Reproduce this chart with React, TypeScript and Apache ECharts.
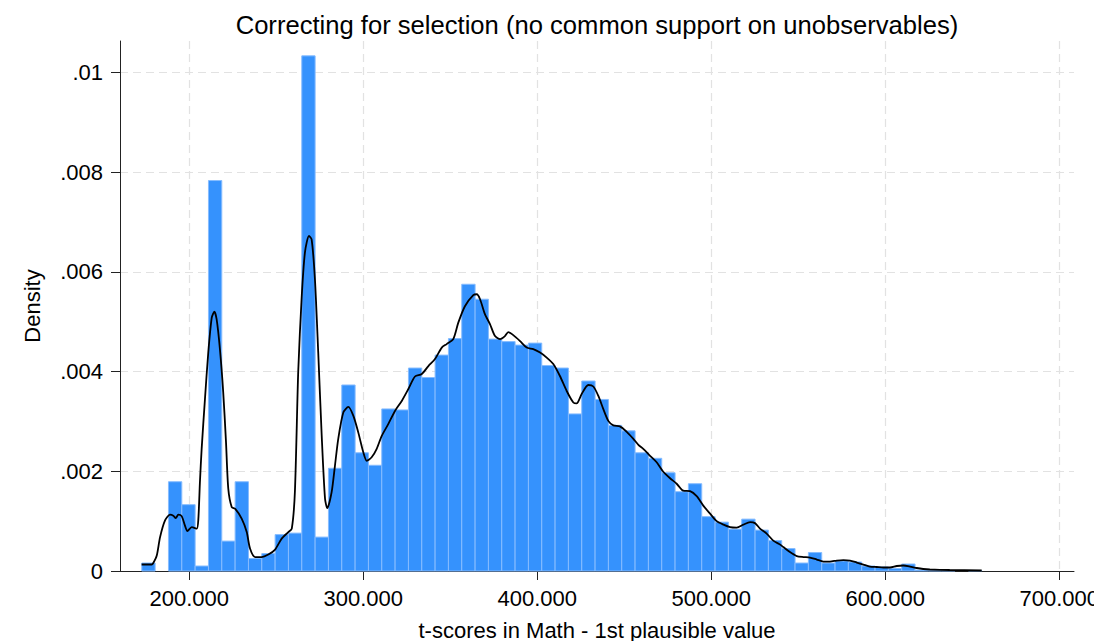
import React, { useEffect, useRef } from "react";
import * as echarts from "echarts";

const TITLE = "Correcting for selection (no common support on unobservables)";
const X_NAME = "t-scores in Math - 1st plausible value";
const Y_NAME = "Density";

const BIN_START = 172.7;
const BIN_WIDTH = 7.662;
const densities = [
  0.00016, 0, 0.00179, 0.00133, 0.0001, 0.00783, 0.0006, 0.00179, 0.00025, 0.00035,
  0.00073, 0.00076, 0.01033, 0.00068, 0.00206, 0.00373, 0.00237, 0.00212, 0.00325, 0.00323,
  0.00407, 0.00388, 0.00433, 0.00466, 0.00575, 0.00545, 0.00465, 0.0046, 0.00453, 0.00457,
  0.00412, 0.00407, 0.00315, 0.00381, 0.00344, 0.00292, 0.00281, 0.00237, 0.00226, 0.00197,
  0.00159, 0.00175, 0.00109, 0.00098, 0.00084, 0.00104, 0.00082, 0.00061, 0.00045, 0.00016,
  0.00037, 0.00016, 0.0002, 0.00018, 0.0001, 0.00008, 0.00005, 0.00014, 0.00002, 0.00001,
  0.00001, 0, 0.00001,
];

const kdeX = [
  172.6, 178.4, 179.3, 181.3, 183.2, 186.0, 188.9, 190.8, 192.2, 193.7, 195.6, 197.5, 198.9,
  201.4, 204.3, 205.2, 206.1, 207.1, 209.0, 210.9, 212.9, 214.4, 215.7, 217.6, 219.5, 221.1,
  222.4, 224.4, 226.3, 230.1, 233.0, 234.9, 237.8, 241.6, 245.4, 249.3, 253.1, 256.9, 258.9,
  260.7, 262.6, 264.6, 266.5, 268.8, 270.3, 272.2, 274.1, 276.1, 278.0, 279.3, 281.8, 283.7,
  285.6, 288.5, 291.4, 294.3, 297.1, 300.0, 302.0, 304.8, 307.7, 310.6, 314.4, 318.2, 322.1,
  325.9, 329.7, 333.6, 337.4, 341.2, 345.1, 347.9, 351.7, 354.6, 358.4, 363.2, 365.2, 367.1,
  369.9, 372.8, 375.7, 378.6, 381.4, 383.3, 386.2, 390.1, 393.9, 397.7, 401.6, 405.4, 409.2,
  413.0, 416.9, 420.7, 422.6, 425.5, 429.3, 432.2, 435.1, 437.9, 440.8, 443.7, 447.5, 451.4,
  455.2, 458.1, 460.9, 464.8, 468.6, 472.4, 476.3, 480.1, 483.9, 487.8, 491.6, 495.4, 499.3,
  503.1, 507.0, 510.8, 514.6, 518.4, 522.3, 525.1, 528.0, 531.8, 535.6, 539.5, 541.4, 545.2,
  549.1, 552.9, 556.7, 560.6, 564.4, 568.2, 572.1, 575.9, 579.7, 583.6, 587.4, 591.2, 595.1,
  598.9, 602.7, 606.6, 610.4, 614.2, 618.1, 621.8, 625.6, 637.0, 655.4,
];
const kdeY = [
  0.00013, 0.00013, 0.00016, 0.00031, 0.00068, 0.00101, 0.00113, 0.00111, 0.00106, 0.00113, 0.0011, 0.00091, 0.0008,
  0.00088, 0.00085, 0.00104, 0.00178, 0.00245, 0.00345, 0.00438, 0.00508, 0.0052, 0.00505, 0.00445, 0.00358, 0.00258,
  0.00165, 0.00128, 0.00125, 0.00105, 0.00078, 0.00045, 0.00028, 0.00028, 0.00033, 0.00043, 0.00065, 0.00078, 0.00085,
  0.0016, 0.004, 0.0055, 0.0064, 0.00672, 0.00665, 0.00585, 0.00438, 0.00271, 0.00145, 0.00126, 0.00158, 0.00211,
  0.00265, 0.00318, 0.00329, 0.00311, 0.00278, 0.00238, 0.00221, 0.00228, 0.00245, 0.00271, 0.00295, 0.00321, 0.00341,
  0.00365, 0.0039, 0.00395, 0.00411, 0.00425, 0.00448, 0.00455, 0.00465, 0.00498, 0.00531, 0.00553, 0.00555, 0.00545,
  0.00515, 0.00495, 0.00471, 0.00465, 0.00471, 0.00479, 0.00473, 0.00461, 0.00448, 0.00445, 0.00438, 0.00428, 0.00415,
  0.00391, 0.00361, 0.00338, 0.00336, 0.00355, 0.00373, 0.0037, 0.00351, 0.00325, 0.00301, 0.00292, 0.0029, 0.00279,
  0.00265, 0.00253, 0.00245, 0.00231, 0.00218, 0.00199, 0.00186, 0.00175, 0.00161, 0.0016, 0.0015, 0.00131, 0.00115,
  0.001, 0.00093, 0.00088, 0.00087, 0.00093, 0.00098, 0.00096, 0.00085, 0.00075, 0.00061, 0.00053, 0.00048, 0.00038,
  0.0003, 0.00028, 0.00027, 0.00023, 0.00019, 0.00019, 0.00021, 0.00022, 0.00021, 0.00017, 0.00013, 0.00009, 0.00008,
  0.00007, 0.00007, 0.0001, 0.00011, 0.00009, 0.00006, 0.00004, 0.00003, 0.00002, 0.00001,
];

const xTicks = [200, 300, 400, 500, 600, 700];
const yTicks = [0, 0.002, 0.004, 0.006, 0.008, 0.01];

const FONT = "'Liberation Sans', Arial, sans-serif";
const BAR_COLOR = "#3592fd";
const BAR_EDGE = "#86bcff";
const GRID_COLOR = "#e2e2e2";
const AXIS_COLOR = "#222222";

export default function App() {
  const ref = useRef<HTMLDivElement>(null);

  useEffect(() => {
    if (!ref.current) return;
    const chart = echarts.init(ref.current, undefined, { renderer: "svg" });
    const barData = densities.map((d, i) => [
      BIN_START + i * BIN_WIDTH,
      BIN_START + (i + 1) * BIN_WIDTH,
      d,
    ]);
    const kdeData = kdeX.map((x, i) => [x, kdeY[i]]);

    chart.setOption({
      animation: false,
      textStyle: { fontFamily: FONT },
      grid: { left: 120, right: 20, top: 41, bottom: 70, containLabel: false, outerBoundsMode: "none" },
      graphic: [
        {
          type: "text",
          x: 597,
          y: 25,
          style: {
            text: TITLE,
            textAlign: "center",
            textVerticalAlign: "middle",
            fontSize: 25.6,
            fontFamily: FONT,
            fill: "#000",
          },
        },
      ],
      xAxis: {
        type: "value",
        min: 160.17,
        max: 708.45,
        name: X_NAME,
        nameLocation: "middle",
        nameGap: 48,
        nameTextStyle: { fontSize: 22, color: "#000", fontFamily: FONT },
        axisLine: { show: true, onZero: false, lineStyle: { color: AXIS_COLOR, width: 1 } },
        axisTick: { show: true, length: 9, customValues: xTicks, lineStyle: { color: AXIS_COLOR } },
        axisLabel: {
          customValues: xTicks,
          margin: 16,
          fontSize: 22,
          color: "#000",
          fontFamily: FONT,
          formatter: (v: number) => v.toFixed(3),
        },
        splitLine: { show: true, lineStyle: { color: GRID_COLOR, type: [8, 5], width: 1.2 } },
      },
      yAxis: {
        type: "value",
        min: 0,
        max: 0.010628,
        name: Y_NAME,
        nameLocation: "middle",
        nameGap: 77,
        nameRotate: 90,
        nameTextStyle: { fontSize: 22, color: "#000", fontFamily: FONT },
        axisLine: { show: true, lineStyle: { color: AXIS_COLOR, width: 1 } },
        axisTick: { show: true, length: 9, customValues: yTicks, lineStyle: { color: AXIS_COLOR } },
        axisLabel: {
          customValues: yTicks,
          margin: 17,
          fontSize: 22,
          color: "#000",
          fontFamily: FONT,
          formatter: (v: number) => {
            if (v === 0) return "0";
            return String(Number(v.toFixed(4))).replace(/^0\./, ".");
          },
        },
        splitLine: { show: true, lineStyle: { color: GRID_COLOR, type: [8, 5], width: 1.2 } },
      },
      series: [
        {
          type: "custom",
          name: "histogram",
          data: barData,
          encode: { x: [0, 1], y: 2 },
          renderItem: (params: any, api: any) => {
            const x0 = api.value(0);
            const x1 = api.value(1);
            const h = api.value(2);
            if (!(h > 0)) return { type: "group", children: [] };
            const p0 = api.coord([x0, h]);
            const p1 = api.coord([x1, 0]);
            return {
              type: "rect",
              shape: { x: p0[0], y: p0[1], width: p1[0] - p0[0], height: p1[1] - p0[1] },
              style: { fill: BAR_COLOR, stroke: BAR_EDGE, lineWidth: 1 },
            };
          },
          z: 2,
        },
        {
          type: "line",
          name: "kdensity",
          data: kdeData,
          showSymbol: false,
          symbol: "none",
          smooth: 0.25,
          lineStyle: { color: "#000", width: 1.8 },
          z: 3,
        },
      ],
    });
    return () => chart.dispose();
  }, []);

  return (
    <div
      ref={ref}
      style={{ position: "fixed", left: 0, top: 0, width: 1094, height: 641, background: "#fff" }}
    />
  );
}
